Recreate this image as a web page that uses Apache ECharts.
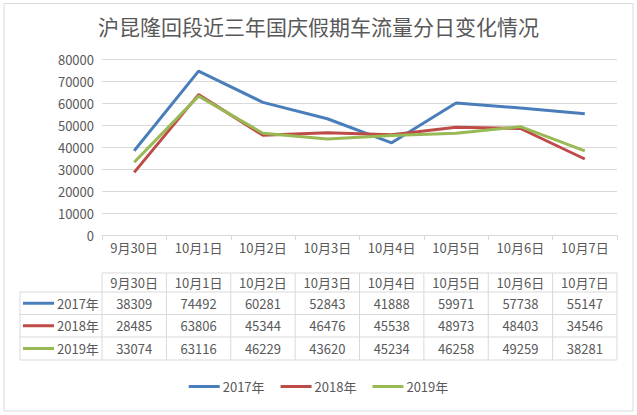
<!DOCTYPE html>
<html>
<head>
<meta charset="utf-8">
<script src="https://cdn.jsdelivr.net/npm/echarts@6/dist/echarts.min.js"></script>
<style>
html,body{margin:0;padding:0;background:#fff;}
#c{width:637px;height:415px;}
</style>
</head>
<body>
<div id="c"></div>
<script>
const title = '沪昆隆回段近三年国庆假期车流量分日变化情况';
const categories = ['9月30日','10月1日','10月2日','10月3日','10月4日','10月5日','10月6日','10月7日'];
const seriesNames = ['2017年','2018年','2019年'];
const values2017 = [38309,74492,60281,52843,41888,59971,57738,55147];
const values2018 = [28485,63806,45344,46476,45538,48973,48403,34546];
const values2019 = [33074,63116,46229,43620,45234,46258,49259,38281];
const colors = ['#4A7EBB','#BE4B48','#98B954'];
const allValues = [values2017, values2018, values2019];

const FONT = '"Noto Sans CJK SC", "Noto Sans", sans-serif';
const TXT = '#595959';
const LINE = '#D9D9D9';

const chart = echarts.init(document.getElementById('c'), null, {renderer:'svg'});

const option = {
  animation:false,
  backgroundColor:'#fff',
  textStyle:{fontFamily:FONT},
  title:{
    text:title, left:'center', top:10,
    textStyle:{fontFamily:FONT, fontSize:21, fontWeight:'normal', color:TXT}
  },
  legend:{
    data:seriesNames.map(n=>({name:n, icon:'rect'})), bottom:17, left:'center',
    itemWidth:31, itemHeight:3, itemGap:16,
    textStyle:{fontFamily:FONT, fontSize:13, color:TXT, padding:[0,0,0,-2]}
  },
  grid:{left:102, right:20, top:59, bottom:180, containLabel:false},
  xAxis:{
    type:'category', data:categories, boundaryGap:true,
    axisLine:{lineStyle:{color:LINE, width:1}},
    axisTick:{show:true, length:5, lineStyle:{color:LINE}},
    axisLabel:{fontFamily:FONT, fontSize:13, color:TXT, margin:6}
  },
  yAxis:{
    type:'value', min:0, max:80000, interval:10000,
    axisLine:{show:false}, axisTick:{show:false},
    splitLine:{lineStyle:{color:LINE, width:1}},
    axisLabel:{fontFamily:FONT, fontSize:13, color:TXT, margin:8, formatter:v=>String(v)}
  },
  series: seriesNames.map((n,i)=>({
    name:n, type:'line', data:allValues[i], symbol:'none', showSymbol:false,
    lineStyle:{color:colors[i], width:3}, itemStyle:{color:colors[i]}
  }))
};
chart.setOption(option);

// Data table beneath the axis; column positions come from the category axis scale
const left0 = 20, tableTop = 273, rowH = [292, 314.5, 337, 360];
const centers = categories.map((c,i)=>chart.convertToPixel({xAxisIndex:0}, i));
const bw = centers[1] - centers[0];
const bounds = centers.map(c=>c - bw/2).concat([centers[centers.length-1] + bw/2]);
const gx0 = bounds[0], gx1 = bounds[bounds.length-1];

const g = [];
g.push({type:'rect', shape:{x:4, y:3.5, width:629, height:407.5}, style:{fill:'none', stroke:LINE, lineWidth:1}, silent:true});
g.push({type:'line', shape:{x1:gx0, y1:tableTop, x2:gx1, y2:tableTop}, style:{stroke:LINE, lineWidth:1}});
rowH.forEach(y=>g.push({type:'line', shape:{x1:left0, y1:y, x2:gx1, y2:y}, style:{stroke:LINE, lineWidth:1}}));
bounds.forEach(x=>g.push({type:'line', shape:{x1:x, y1:tableTop, x2:x, y2:rowH[3]}, style:{stroke:LINE, lineWidth:1}}));
g.push({type:'line', shape:{x1:left0, y1:rowH[0], x2:left0, y2:rowH[3]}, style:{stroke:LINE, lineWidth:1}});
centers.forEach((cx,i)=>g.push({type:'text', x:cx, y:(tableTop+rowH[0])/2,
  style:{text:categories[i], fill:TXT, font:'13px '+FONT, textAlign:'center', textVerticalAlign:'middle'}}));
seriesNames.forEach((n,r)=>{
  const cy = (rowH[r]+rowH[r+1])/2;
  g.push({type:'line', shape:{x1:23, y1:cy, x2:54, y2:cy}, style:{stroke:colors[r], lineWidth:3}});
  g.push({type:'text', x:57, y:cy, style:{text:n, fill:TXT, font:'13px '+FONT, textAlign:'left', textVerticalAlign:'middle'}});
  centers.forEach((cx,i)=>g.push({type:'text', x:cx, y:cy,
    style:{text:String(allValues[r][i]), fill:TXT, font:'13px '+FONT, textAlign:'center', textVerticalAlign:'middle'}}));
});
chart.setOption({graphic:{elements:g}});
</script>
</body>
</html>
